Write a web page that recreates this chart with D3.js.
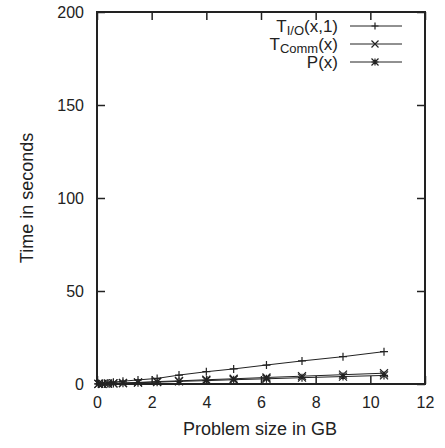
<!DOCTYPE html>
<html><head><meta charset="utf-8">
<script src="https://cdn.jsdelivr.net/npm/d3@7"></script>
<style>body{margin:0;background:#fff}text{font-family:"Liberation Sans",Arial,sans-serif;fill:#222}</style>
</head><body>
<svg id="c" width="445" height="448"></svg>
<script>
const sizes = [0.05, 0.2, 0.4, 0.6, 0.95, 1.5, 2.2, 3.0, 4.0, 5.0, 6.2, 7.5, 9.0, 10.5];
const tIO   = [0.1, 0.3, 0.6, 1.0, 1.5, 2.2, 3.0, 4.8, 6.6, 8.1, 10.2, 12.4, 14.7, 17.4];
const tComm = [0.05, 0.1, 0.2, 0.35, 0.55, 0.85, 1.3, 1.7, 2.3, 2.8, 3.5, 4.2, 5.0, 5.8];
const pX    = [0.05, 0.1, 0.2, 0.3, 0.45, 0.7, 1.0, 1.4, 1.8, 2.3, 2.8, 3.4, 4.0, 4.6];
const xTicks = [0, 2, 4, 6, 8, 10, 12];
const yTicks = [0, 50, 100, 150, 200];

const svg = d3.select("#c");
const L = 97, R = 425, T = 12, B = 384;
const x = d3.scaleLinear().domain([0, 12]).range([L, R]);
const y = d3.scaleLinear().domain([0, 200]).range([B, T]);
const ink = "#222";

const line = d3.line().x((d, i) => x(sizes[i])).y(d => y(d));
const series = [
  {v: tIO, m: "plus"}, {v: tComm, m: "cross"}, {v: pX, m: "star"}
];
function marker(g, type, cx, cy, s = 4) {
  const p = d3.path();
  if (type === "plus" || type === "star") {
    p.moveTo(cx - s, cy); p.lineTo(cx + s, cy);
    p.moveTo(cx, cy - s); p.lineTo(cx, cy + s);
  }
  if (type === "cross" || type === "star") {
    p.moveTo(cx - s, cy - s); p.lineTo(cx + s, cy + s);
    p.moveTo(cx - s, cy + s); p.lineTo(cx + s, cy - s);
  }
  g.append("path").attr("d", p.toString()).attr("stroke", ink).attr("stroke-width", 1.2).attr("fill", "none");
}
series.forEach(s => {
  svg.append("path").attr("d", line(s.v)).attr("fill", "none").attr("stroke", ink).attr("stroke-width", 1);
  const g = svg.append("g");
  s.v.forEach((d, i) => marker(g, s.m, x(sizes[i]), y(d)));
});

const tl = 8;
svg.append("g").attr("transform", `translate(0,${B})`)
  .call(d3.axisBottom(x).tickValues(xTicks).tickSize(-tl).tickPadding(13).tickFormat(d3.format("d")))
  .call(g => { g.select(".domain").remove(); g.selectAll("line").attr("stroke", ink).attr("stroke-width", 1.5); g.selectAll("text").attr("font-size", 16).attr("fill", ink); });
svg.append("g").attr("transform", `translate(0,${T})`)
  .call(d3.axisTop(x).tickValues(xTicks).tickSize(-tl).tickFormat(""))
  .call(g => { g.select(".domain").remove(); g.selectAll("line").attr("stroke", ink).attr("stroke-width", 1.5); });
svg.append("g").attr("transform", `translate(${L},0)`)
  .call(d3.axisLeft(y).tickValues(yTicks).tickSize(-tl).tickPadding(13).tickFormat(d3.format("d")))
  .call(g => { g.select(".domain").remove(); g.selectAll("line").attr("stroke", ink).attr("stroke-width", 1.5); g.selectAll("text").attr("font-size", 16).attr("fill", ink); });
svg.append("g").attr("transform", `translate(${R},0)`)
  .call(d3.axisRight(y).tickValues(yTicks).tickSize(-tl).tickFormat(""))
  .call(g => { g.select(".domain").remove(); g.selectAll("line").attr("stroke", ink).attr("stroke-width", 1.5); });

svg.append("rect").attr("x", L).attr("y", T).attr("width", R - L).attr("height", B - T)
  .attr("fill", "none").attr("stroke", ink).attr("stroke-width", 2);

svg.append("text").attr("x", 260).attr("y", 435).attr("text-anchor", "middle").attr("font-size", 18).text("Problem size in GB");
svg.append("text").attr("transform", `translate(33,198) rotate(-90)`).attr("text-anchor", "middle").attr("font-size", 18).text("Time in seconds");

const legend = [
  {main: "T", sub: "I/O", rest: "(x,1)", m: "plus"},
  {main: "T", sub: "Comm", rest: "(x)", m: "cross"},
  {main: "P(x)", sub: "", rest: "", m: "star"}
];
legend.forEach((d, i) => {
  const ly = 26 + i * 18;
  const t = svg.append("text").attr("x", 338).attr("y", ly + 6).attr("text-anchor", "end").attr("font-size", 17);
  t.append("tspan").text(d.main);
  if (d.sub) {
    t.append("tspan").attr("font-size", 13).attr("dy", 3).text(d.sub);
    t.append("tspan").attr("dy", -3).text(d.rest);
  }
  svg.append("line").attr("x1", 350).attr("x2", 402).attr("y1", ly).attr("y2", ly).attr("stroke", ink).attr("stroke-width", 1);
  marker(svg.append("g"), d.m, 375, ly, 3.5);
});
</script>
</body></html>
